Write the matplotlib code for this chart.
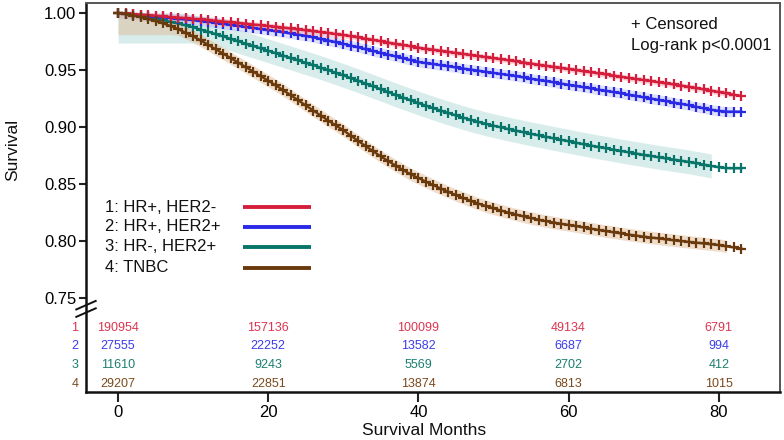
import numpy as np
import matplotlib
matplotlib.use("Agg")
import matplotlib.pyplot as plt

plt.rcParams['font.family'] = ['Liberation Sans', 'DejaVu Sans']

# ================================
# Dados
# ================================
meses = np.arange(0, 84)

surv_hr_pos_her2_neg = [
    1.0000, 0.9996, 0.9991, 0.9986, 0.9981, 0.9976, 0.9970, 0.9965, 0.9960, 0.9955, 0.9949, 0.9944, 0.9938,
    0.9932, 0.9925, 0.9919, 0.9912, 0.9906, 0.9899, 0.9893, 0.9886, 0.9880,
    0.9872, 0.9864, 0.9856, 0.9848, 0.9840, 0.9832, 0.9824, 0.9815, 0.9807,
    0.9796, 0.9785, 0.9774, 0.9763, 0.9752, 0.9740, 0.9729, 0.9718, 0.9707, 0.9695,
    0.9686, 0.9677, 0.9668, 0.9658, 0.9649, 0.9640, 0.9631, 0.9621, 0.9612, 0.9603, 0.9594, 0.9584, 0.9575,
    0.9565, 0.9556, 0.9546, 0.9536, 0.9527, 0.9517, 0.9508, 0.9498, 0.9488, 0.9479, 0.9469, 0.9460, 0.9450, 0.9440,
    0.9430, 0.9420, 0.9411, 0.9401, 0.9391, 0.9381, 0.9372, 0.9362, 0.9352,
    0.9340, 0.9329, 0.9317, 0.9305, 0.9294, 0.9282, 0.9270,
]

surv_hr_pos_her2_pos = [
    1.0000, 0.9994, 0.9987, 0.9981, 0.9975, 0.9968, 0.9962, 0.9956, 0.9949, 0.9943, 0.9937, 0.9930, 0.9924,
    0.9915, 0.9905, 0.9896, 0.9887, 0.9877, 0.9868, 0.9859, 0.9849, 0.9840,
    0.9830, 0.9820, 0.9810, 0.9800,
    0.9786, 0.9772, 0.9758, 0.9744, 0.9730,
    0.9714, 0.9698, 0.9682, 0.9666, 0.9650, 0.9634, 0.9618, 0.9602, 0.9586, 0.9570,
    0.9560, 0.9551, 0.9541, 0.9531, 0.9522, 0.9512, 0.9503, 0.9493, 0.9483, 0.9474, 0.9464, 0.9455, 0.9445,
    0.9434, 0.9423, 0.9412, 0.9402, 0.9391, 0.9380, 0.9369, 0.9359, 0.9348, 0.9337, 0.9326, 0.9316, 0.9305, 0.9294,
    0.9282, 0.9271, 0.9259, 0.9248, 0.9236, 0.9225, 0.9213, 0.9202, 0.9190,
    0.9175, 0.9162, 0.9150, 0.9140, 0.9133, 0.9133, 0.9133,
]

surv_hr_neg_her2_pos = [
    1.0000, 0.9992, 0.9983, 0.9973, 0.9962, 0.9950, 0.9937, 0.9923, 0.9908, 0.9892, 0.9874, 0.9855, 0.9836,
    0.9815, 0.9794, 0.9773, 0.9752, 0.9731, 0.9710, 0.9689, 0.9668, 0.9647, 0.9626,
    0.9605, 0.9584, 0.9563, 0.9542, 0.9520, 0.9498, 0.9475, 0.9452,
    0.9428, 0.9404, 0.9380, 0.9355, 0.9330, 0.9305, 0.9280, 0.9256, 0.9232, 0.9209,
    0.9186, 0.9164, 0.9142, 0.9121, 0.9100, 0.9080, 0.9061, 0.9043, 0.9026, 0.9010,
    0.8995, 0.8980, 0.8966, 0.8952, 0.8938, 0.8925, 0.8912, 0.8899, 0.8886, 0.8873,
    0.8860, 0.8847, 0.8835, 0.8823, 0.8811, 0.8799, 0.8787, 0.8776, 0.8765, 0.8754,
    0.8743, 0.8732, 0.8722, 0.8712, 0.8702, 0.8692, 0.8680, 0.8668, 0.8656, 0.8645,
    0.8637, 0.8636, 0.8636,
]

surv_tnbc = [
    1.0000, 0.9990, 0.9978, 0.9964, 0.9948, 0.9930, 0.9909, 0.9885, 0.9858, 0.9828,
    0.9795, 0.9759, 0.9721, 0.9682, 0.9643, 0.9604, 0.9565, 0.9525, 0.9485, 0.9445,
    0.9405, 0.9365, 0.9322, 0.9278, 0.9233, 0.9188, 0.9143, 0.9099, 0.9055, 0.9012,
    0.8970, 0.8922, 0.8875, 0.8829, 0.8784, 0.8740, 0.8698, 0.8658, 0.8619, 0.8582,
    0.8550, 0.8518, 0.8487, 0.8457, 0.8428, 0.8400, 0.8374, 0.8349, 0.8325, 0.8303,
    0.8283, 0.8264, 0.8246, 0.8229, 0.8213, 0.8198, 0.8184, 0.8171, 0.8159, 0.8148,
    0.8138, 0.8127, 0.8116, 0.8105, 0.8094, 0.8083, 0.8073, 0.8063, 0.8053, 0.8044,
    0.8035, 0.8027, 0.8019, 0.8011, 0.8003, 0.7996, 0.7989, 0.7982, 0.7975, 0.7968,
    0.7961, 0.7950, 0.7940, 0.7930,
]

# meia-largura do IC, piso inicial do IC e último mês com IC
ic_meia = [0.0025, 0.0045, 0.0105, 0.0055]
ic_piso = [1.0, 1.0, 0.9736, 0.981]
ic_fim = [82, 82, 79, 81]

grupos = ["1: HR+, HER2-", "2: HR+, HER2+", "3: HR-, HER2+", "4: TNBC"]
cores = ["#D41E3C", "#2A2AE6", "#08756A", "#6A3A0C"]
cores_ic = ["#F2A7B4", "#B9BCF2", "#A9D8D3", "#DDB48E"]
cores_num = ["#DC3550", "#3C3CEA", "#1C7E70", "#7A4A1C"]

# números em risco
meses_risco = [0, 20, 40, 60, 80]
n_risco = [
    [190954, 157136, 100099, 49134, 6791],
    [27555, 22252, 13582, 6687, 994],
    [11610, 9243, 5569, 2702, 412],
    [29207, 22851, 13874, 6813, 1015],
]

curvas = [surv_hr_pos_her2_neg, surv_hr_pos_her2_pos, surv_hr_neg_her2_pos, surv_tnbc]

# ================================
# Figura
# ================================
fig = plt.figure(figsize=(7.84, 4.40), dpi=100)
ax = fig.add_axes([0.1097, 0.1102, 0.8852, 0.8830])

ordem = [2, 1, 0, 3]
for i in ordem:
    s = np.array(curvas[i])
    fim = ic_fim[i] + 1
    baixo = np.minimum(s - ic_meia[i], ic_piso[i])[:fim]
    cima = np.minimum(s + ic_meia[i], 1.0)[:fim]
    ax.fill_between(meses[:fim], baixo, cima, color=cores_ic[i], alpha=0.45,
                    lw=0, zorder=1)
for i in ordem:
    ax.plot(meses, curvas[i], color=cores[i], lw=1.7, marker='+', ms=7,
            mew=1.6, zorder=3)

ax.set_xlim(-4.26, 88.15)
ax.set_ylim(0.6674, 1.0088)
ax.set_xticks([0, 20, 40, 60, 80])
ax.set_yticks([0.75, 0.80, 0.85, 0.90, 0.95, 1.00])
ax.set_yticklabels(["0.75", "0.80", "0.85", "0.90", "0.95", "1.00"])
ax.tick_params(axis='both', labelsize=12, direction='out', color='#222222',
               width=1.5)
ax.tick_params(axis='y', length=5, pad=2)
ax.tick_params(axis='x', length=7, pad=3)

for lado in ['left', 'bottom']:
    ax.spines[lado].set_color('#111111')
    ax.spines[lado].set_linewidth(1.8)
for lado in ['top', 'right']:
    ax.spines[lado].set_color('#555555')
    ax.spines[lado].set_linewidth(1.4)

# quebra no eixo y
trans = ax.get_yaxis_transform()
for dy in [0.0, 0.0065]:
    ax.plot([-0.014, 0.014], [0.7330 + dy, 0.7405 + dy], transform=trans,
            color='#111111', lw=1.4, clip_on=False, zorder=5)

# legenda manual
leg_y = [0.8295, 0.8121, 0.7945, 0.7762]
for i in range(4):
    ax.text(0.027, leg_y[i], grupos[i], transform=trans, fontsize=12,
            va='center', ha='left', color='#111111')
    ax.plot([0.226, 0.324], [leg_y[i], leg_y[i]], transform=trans,
            color=cores[i], lw=2.8, solid_capstyle='butt', zorder=4)

ax.text(0.785, 0.9895, "+ Censored", transform=trans, fontsize=12,
        va='center', ha='left', color='#111111')
ax.text(0.785, 0.9718, "Log-rank p<0.0001", transform=trans, fontsize=12,
        va='center', ha='left', color='#111111')

# tabela de risco
linhas_y = [0.7236, 0.7074, 0.6907, 0.6742]
for i in range(4):
    ax.text(-0.016, linhas_y[i], str(i + 1), transform=trans, fontsize=9,
            ha='center', va='center', color=cores_num[i], clip_on=False)
    for m, n in zip(meses_risco, n_risco[i]):
        ax.text(m, linhas_y[i], str(n), fontsize=9, ha='center', va='center',
                color=cores_num[i])

fig.text(424 / 784, 1 - 430 / 440, "Survival Months", fontsize=12.5,
         ha='center', va='center', color='#111111')
fig.text(13 / 784, 1 - 150 / 440, "Survival", fontsize=12.5, rotation=90,
         ha='center', va='center', color='#111111')

plt.savefig("out.png", dpi=100)
